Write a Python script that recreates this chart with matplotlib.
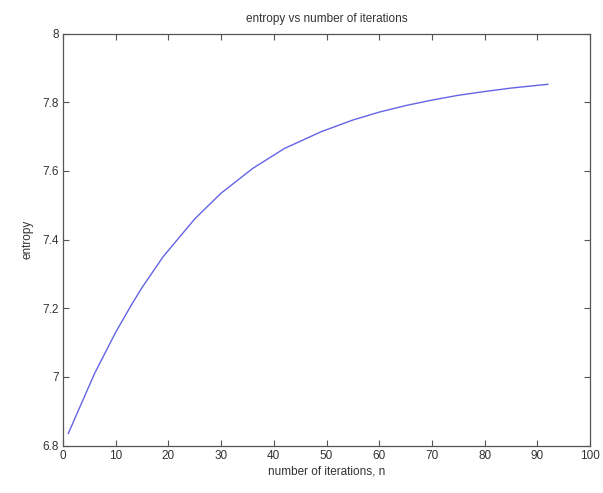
import matplotlib
matplotlib.use("Agg")
import matplotlib.pyplot as plt

iterations = [1, 6, 10, 13, 15, 19, 25, 30, 36, 42, 49, 55, 60, 65, 70, 75, 80, 85, 90, 92]
entropy = [6.835, 7.01, 7.13, 7.21, 7.26, 7.35, 7.46, 7.535, 7.607, 7.665, 7.714,
           7.748, 7.771, 7.79, 7.806, 7.82, 7.831, 7.841, 7.849, 7.852]
xticks = [0, 10, 20, 30, 40, 50, 60, 70, 80, 90, 100]
yticks = [6.8, 7.0, 7.2, 7.4, 7.6, 7.8, 8.0]
ytick_labels = ["6.8", "7", "7.2", "7.4", "7.6", "7.8", "8"]

plt.rcParams['font.family'] = ['Liberation Sans', 'DejaVu Sans']
fig = plt.figure(figsize=(6.03, 4.93), dpi=100)
ax = fig.add_axes([63/603, 1-445.5/493, (590-63)/603, (445.5-33.5)/493])
ax.plot(iterations, entropy, color='#6464e6', linewidth=1.0)
ax.set_xlim(0, 100)
ax.set_ylim(6.8, 8.0)
ax.set_xticks(xticks)
ax.set_xticklabels([str(t) for t in xticks])
ax.set_yticks(yticks)
ax.set_yticklabels(ytick_labels)
tc = '#333333'
ax.tick_params(direction='in', length=4, width=0.8, top=True, right=True,
               labelsize=8.5, colors='#555555', labelcolor=tc, pad=3)
for s in ax.spines.values():
    s.set_color('#555555')
    s.set_linewidth(0.9)
ax.set_title('entropy vs number of iterations', fontsize=8.5, color=tc, pad=8)
ax.set_xlabel('number of iterations, n', fontsize=8.5, color=tc, labelpad=3)
ax.set_ylabel('entropy', fontsize=8.5, color=tc, labelpad=6)
fig.savefig('out.png', dpi=100)
